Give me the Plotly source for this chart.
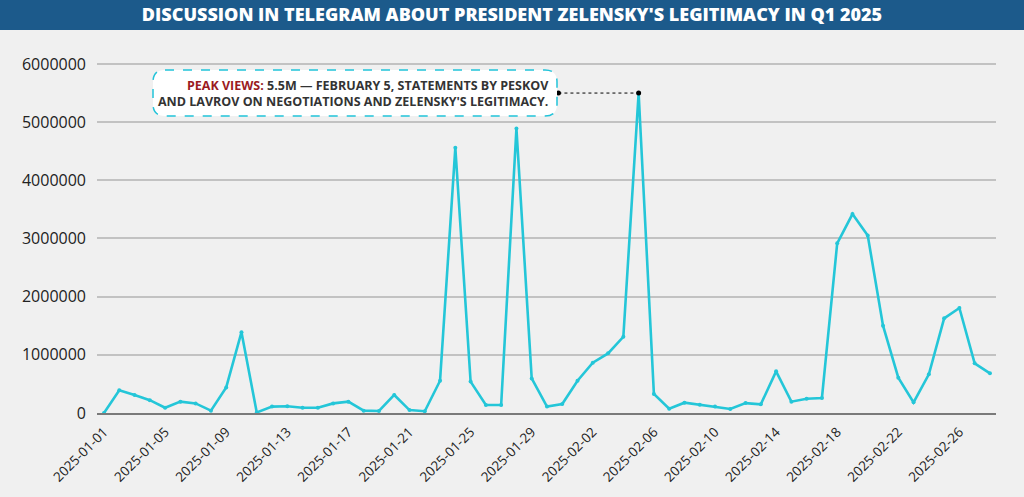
import pandas as pd
import plotly.graph_objects as go

# Daily views, Jan 1 - Feb 28 2025
dates = pd.date_range("2025-01-01", "2025-02-28", freq="D")
views = [
    0, 390000, 310000, 220000, 90000, 195000, 165000, 40000, 440000, 1390000,
    10000, 110000, 115000, 90000, 90000, 165000, 195000, 40000, 35000, 310000,
    50000, 30000, 555000, 4560000, 540000, 137000, 137000, 4890000, 595000, 110000,
    155000,
    555000, 865000, 1025000, 1310000, 5500000, 327000, 75000, 177000, 140000, 110000,
    70000, 170000, 150000, 716000, 195000, 246000, 258000, 2917000, 3420000, 3050000,
    1500000, 607000, 183000, 665000, 1627000, 1805000, 854000, 682000,
]
y_ticks = [0, 1000000, 2000000, 3000000, 4000000, 5000000, 6000000]

title = "DISCUSSION IN TELEGRAM ABOUT PRESIDENT ZELENSKY'S LEGITIMACY IN Q1 2025"
callout = ("<span style='color:#9b1b1f'>PEAK VIEWS:</span> 5.5M — FEBRUARY 5, STATEMENTS BY PESKOV"
           "<br>AND LAVROV ON NEGOTIATIONS AND ZELENSKY'S LEGITIMACY.")

W, H = 1024, 497
L, R, T, B = 97, 28, 40, 84
pw, ph = W - L - R, H - T - B


def px(x):
    return (x - L) / pw


def py(y):
    return (H - B - y) / ph


peak_i = max(range(len(views)), key=lambda i: views[i])
peak_date, peak_val = dates[peak_i], views[peak_i]
link_start = peak_date - pd.Timedelta(hours=126)

fig = go.Figure()
fig.add_trace(go.Scatter(
    x=dates, y=views, mode="lines+markers",
    line=dict(color="#24c6d8", width=2.6),
    marker=dict(size=4, color="#24c6d8"),
    hoverinfo="x+y", showlegend=False,
))

# connector from callout to peak
fig.add_trace(go.Scatter(
    x=[link_start, peak_date], y=[peak_val, peak_val], mode="lines+markers",
    line=dict(color="black", width=1, dash="dot"),
    marker=dict(size=5, color="black"),
    hoverinfo="skip", showlegend=False,
))

# title band
fig.add_shape(type="rect", xref="paper", yref="paper", layer="below",
              x0=px(0), x1=px(W), y0=py(30), y1=py(0),
              fillcolor="#1c5a8b", line_width=0)

# rounded dashed callout box
x0, x1, y0, y1, r = 153, 557, 70, 116, 12
rx, ry = r / pw, r / ph
a0, a1, b0, b1 = px(x0), px(x1), py(y1), py(y0)
path = (f"M {a0+rx},{b1} L {a1-rx},{b1} Q {a1},{b1} {a1},{b1-ry} "
        f"L {a1},{b0+ry} Q {a1},{b0} {a1-rx},{b0} L {a0+rx},{b0} "
        f"Q {a0},{b0} {a0},{b0+ry} L {a0},{b1-ry} Q {a0},{b1} {a0+rx},{b1} Z")
fig.add_shape(type="path", xref="paper", yref="paper", path=path,
              fillcolor="white", line=dict(color="#22c3d9", width=1.5, dash="dash"))

fig.add_annotation(xref="paper", yref="paper", x=px(551), y=py(93),
                   xanchor="right", yanchor="middle", align="right",
                   text=callout, showarrow=False,
                   font=dict(family="Open Sans", size=12.5, color="#333333", weight="bold"))

fig.update_layout(
    width=W, height=H,
    margin=dict(l=L, r=R, t=T, b=B),
    paper_bgcolor="#f0f0f0", plot_bgcolor="#f0f0f0",
    title=dict(text=title, x=0.5, xref="container", xanchor="center",
               y=1 - 15 / H, yref="container", yanchor="middle",
               font=dict(family="Open Sans", size=18, color="white", weight=800)),
    font=dict(family="Open Sans", color="#222222"),
    xaxis=dict(
        range=[dates[0] - pd.Timedelta(hours=11), dates[-1] + pd.Timedelta(hours=9.5)],
        tick0="2025-01-01", dtick=4 * 86400000, tickformat="%Y-%m-%d",
        tickangle=-45, tickfont=dict(size=13.5, color="#222222"), ticklabelstandoff=4,
        showgrid=False, showline=True, linecolor="#7a7a7a", linewidth=1.5,
        ticks="", zeroline=False,
    ),
    yaxis=dict(
        range=[0, 6412000], tickvals=y_ticks, tickformat="d",
        tickfont=dict(size=16, color="#222222"), ticklabelstandoff=10,
        showgrid=True, gridcolor="#c2c2c2", gridwidth=1.5,
        zeroline=False, showline=False, ticks="",
    ),
)

# the page body has a default margin; drop it so the figure sits at the corner
fig.write_html("out.html", config={"displayModeBar": False},
               post_script="document.body.style.margin='0';")
